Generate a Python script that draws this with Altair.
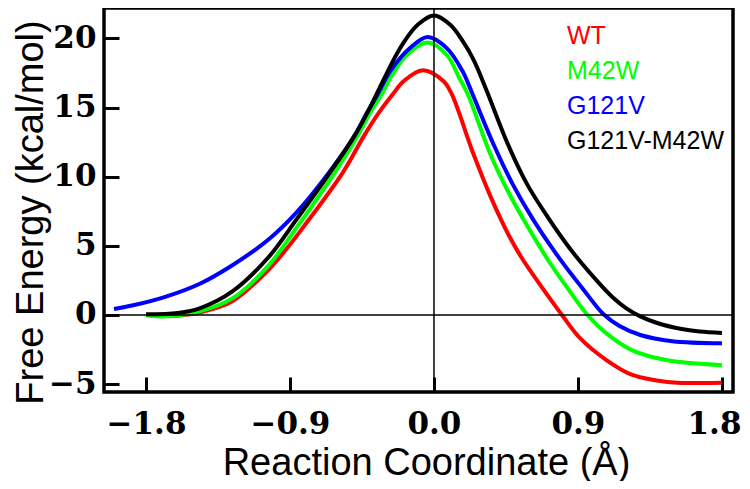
import altair as alt
import pandas as pd

series_names = ["WT", "M42W", "G121V", "G121V-M42W"]
series_colors = ["#ff0000", "#00ff00", "#0000ff", "#000000"]

wt_x = [-1.80, -1.60, -1.46, -1.26, -1.04, -0.92, -0.82, -0.57, -0.44, -0.34, -0.255, -0.19, -0.07,
        0.06, 0.11, 0.245, 0.36, 0.475, 0.55, 0.62, 0.80, 0.91, 1.08, 1.24, 1.46, 1.80]
wt_y = [0.0, -0.05, 0.2, 1.0, 3.2, 4.8, 6.3, 10.3, 12.9, 14.7, 16.0, 16.9, 17.7,
        16.9, 16.0, 11.7, 8.4, 5.6, 4.1, 2.9, 0.0, -1.64, -3.28, -4.34, -4.84, -4.91]

m42w_x = [-1.80, -1.67, -1.46, -1.26, -1.04, -0.86, -0.62, -0.48, -0.40, -0.325, -0.275, -0.17, -0.04,
          0.08, 0.16, 0.21, 0.35, 0.46, 0.58, 0.72, 0.85, 0.96, 1.08, 1.24, 1.46, 1.80]
m42w_y = [-0.02, -0.1, 0.28, 1.2, 3.5, 6.3, 10.3, 12.9, 14.6, 16.0, 17.1, 18.8, 19.7,
          18.8, 17.1, 16.0, 11.7, 9.0, 6.5, 3.85, 1.7, 0.0, -1.35, -2.56, -3.28, -3.63]

g121v_x = [-2.00, -1.88, -1.67, -1.46, -1.26, -1.04, -0.86, -0.65, -0.50, -0.42, -0.35, -0.275, -0.15,
           -0.04, 0.08, 0.18, 0.24, 0.37, 0.49, 0.62, 0.79, 0.93, 1.06, 1.16, 1.29, 1.49, 1.80]
g121v_y = [0.43, 0.7, 1.35, 2.28, 3.6, 5.4, 7.4, 10.4, 12.9, 14.6, 16.0, 17.6, 19.3,
           20.1, 19.3, 17.6, 16.0, 12.4, 9.5, 6.9, 4.0, 1.9, 0.05, -0.8, -1.45, -1.9, -2.05]

dbl_x = [-1.80, -1.60, -1.46, -1.26, -1.04, -0.86, -0.65, -0.50, -0.40, -0.32, -0.25, -0.19, -0.10,
         0.00, 0.10, 0.18, 0.25, 0.33, 0.46, 0.58, 0.71, 0.87, 1.04, 1.12, 1.20, 1.29, 1.40, 1.54,
         1.66, 1.80]
dbl_y = [0.05, 0.15, 0.5, 1.7, 4.1, 6.9, 10.3, 12.9, 15.0, 16.9, 18.5, 19.7, 21.0,
         21.65, 21.0, 19.8, 18.4, 16.2, 12.4, 9.5, 7.1, 4.5, 2.2, 1.25, 0.5, -0.1, -0.6, -1.0,
         -1.2, -1.3]

x_ticks = [-1.8, -0.9, 0.0, 0.9, 1.8]
y_ticks = [-5, 0, 5, 10, 15, 20]
zero_vals = [0.0]

rows = []
for name, xs, ys in zip(series_names, [wt_x, m42w_x, g121v_x, dbl_x], [wt_y, m42w_y, g121v_y, dbl_y]):
    for a, b in zip(xs, ys):
        rows.append({"series": name, "x": a, "y": b})
df = pd.DataFrame(rows)
zero_df = pd.DataFrame({"x": zero_vals, "y": zero_vals})

x_scale = alt.Scale(domain=[-2.0625, 1.869], nice=False, zero=False)
y_scale = alt.Scale(domain=[-5.57, 22.2], nice=False, zero=False)

x_axis = alt.Axis(
    values=x_ticks, format=".1f", title="Reaction Coordinate (Å)",
    domain=False, grid=False, offset=-15, tickSize=15, tickWidth=3, tickColor="black",
    labelFont="DejaVu Serif", labelFontWeight="bold", labelFontSize=31, labelColor="black",
    labelPadding=17, labelFlush=12, labelFlushOffset=19, labelOverlap=False,
    titleFont="Liberation Sans", titleFontSize=38, titleFontWeight="normal", titleColor="black",
    titleX=322, titleY=97, titleBaseline="alphabetic", titleAlign="center", titleAnchor="start",
)
y_axis = alt.Axis(
    values=y_ticks, format="d", title="Free Energy (kcal/mol)",
    domain=False, grid=False, offset=-15, tickSize=15, tickWidth=3, tickColor="black",
    labelFont="DejaVu Serif", labelFontWeight="bold", labelFontSize=31, labelColor="black",
    labelPadding=8, labelFlush=False, labelOverlap=False,
    titleFont="Liberation Sans", titleFontSize=38, titleFontWeight="normal", titleColor="black",
    titleAngle=270, titleX=-77, titleY=204, titleBaseline="alphabetic", titleAlign="center",
    titleAnchor="start",
)

legend = alt.Legend(
    title=None, orient="none", legendX=434, legendY=15, padding=0,
    labelFont="Liberation Sans", labelFontSize=25, labelOffset=4, labelLimit=400,
    labelColor=alt.ExprRef("scale('color', datum.value)"),
    symbolSize=0, symbolStrokeWidth=0, symbolOpacity=0, rowPadding=9,
)

lines = alt.Chart(df).mark_line(strokeWidth=4, interpolate="catmull-rom").encode(
    x=alt.X("x:Q", scale=x_scale, axis=x_axis),
    y=alt.Y("y:Q", scale=y_scale, axis=y_axis),
    color=alt.Color("series:N", scale=alt.Scale(domain=series_names, range=series_colors),
                    legend=legend, sort=series_names),
)

hrule = alt.Chart(zero_df).mark_rule(color="black", strokeWidth=1.5).encode(
    y=alt.Y("y:Q", scale=y_scale, axis=y_axis)
)
vrule = alt.Chart(zero_df).mark_rule(color="black", strokeWidth=1.5).encode(
    x=alt.X("x:Q", scale=x_scale, axis=x_axis)
)

chart = alt.layer(lines, hrule, vrule).properties(
    width=629, height=384,
    background="white",
    autosize=alt.AutoSizeParams(type="none"),
    padding={"left": 96, "top": 0, "right": 9, "bottom": 89},
).configure_view(
    stroke="black", strokeWidth=3.5
)

chart.save("out.html", embed_options={"renderer": "svg", "actions": False})
